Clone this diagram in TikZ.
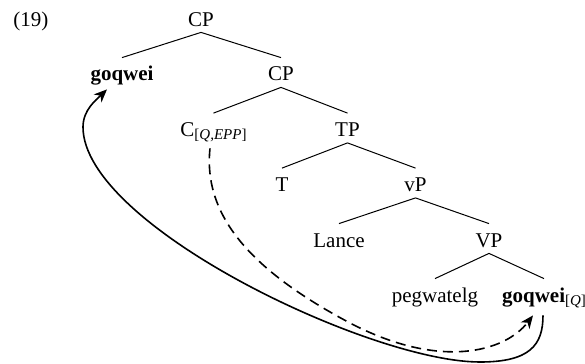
\documentclass[tikz,border=0pt]{standalone}
\usepackage{fontspec}
\setmainfont{Liberation Serif}
\usetikzlibrary{arrows.meta}
\newcommand\mysub[1]{\raisebox{-1.75pt}{\fontsize{7.5}{8}\selectfont[\textit{#1}]}}
\begin{document}
\begin{tikzpicture}[x=0.5pt,y=-0.5pt,
  lbl/.style={inner sep=0pt, text height=11.5pt, text depth=3pt, anchor=base,
    font=\fontsize{10.5}{12}\selectfont},
  edge/.style={line width=0.5pt},
  mv/.style={line width=0.8pt, -{Stealth[length=6.5pt,width=5.5pt,inset=2pt]}}]
\useasboundingbox (0,0) rectangle (585,364);
\node[lbl, anchor=base west] (ex) at (13,26) {(19)};
\node[lbl] (cp1) at (201,26) {CP};
\node[lbl] (go1) at (122,81) {\textbf{goqwei}};
\node[lbl] (cp2) at (281,81) {CP};
\node[lbl] (c) at (213.5,136.5) {C\mysub{Q,EPP}};
\node[lbl] (tp) at (347.5,136.5) {TP};
\node[lbl] (t) at (282,191.5) {T};
\node[lbl] (vp) at (415.5,191.5) {vP};
\node[lbl] (lance) at (339,247) {Lance};
\node[lbl] (VP) at (489,247) {VP};
\node[lbl] (peg) at (435,302) {pegwatelg};
\node[lbl] (gq2) at (544,302) {\textbf{goqwei}\mysub{Q}};
\draw[edge] (cp1.south) -- (go1.north);
\draw[edge] (cp1.south) -- (cp2.north);
\draw[edge] (cp2.south) -- (c.north);
\draw[edge] (cp2.south) -- (tp.north);
\draw[edge] (tp.south) -- (t.north);
\draw[edge] (tp.south) -- (vp.north);
\draw[edge] (vp.south) -- (lance.north);
\draw[edge] (vp.south) -- (VP.north);
\draw[edge] (VP.south) -- (peg.north);
\draw[edge] (VP.south) -- (gq2.north);
\coordinate (s1) at (480,362);
\coordinate (s2) at (83,127);
\coordinate (d1) at (350,323);
\draw[mv] ([shift={(-1,7)}]gq2.south) .. controls (543,345) and (530,362) .. (s1)
  .. controls (370,362) and (83,225) .. (s2)
  .. controls (83,110) and (96,100) .. ([shift={(-15,2)}]go1.south);
\draw[mv, dash pattern=on 5pt off 3pt] ([shift={(-3.5,5.5)}]c.south) .. controls (203,215) and (250,270) .. (d1)
  .. controls (440,370) and (505,352) .. ([shift={(-11,7)}]gq2.south);
\end{tikzpicture}
\end{document}
